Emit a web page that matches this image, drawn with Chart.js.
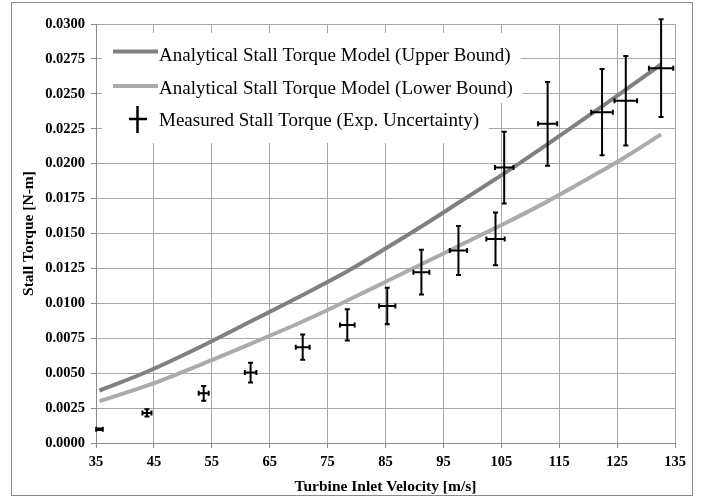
<!DOCTYPE html>
<html>
<head>
<meta charset="utf-8">
<script src="https://cdn.jsdelivr.net/npm/chart.js@4/dist/chart.umd.min.js"></script>
<style>
  html, body { margin: 0; padding: 0; background: #fff; }
  #wrap { width: 704px; height: 498px; position: relative; }
</style>
</head>
<body>
<div id="wrap"><canvas id="stallChart"></canvas></div>
<script>
// turbine inlet velocity [m/s]
const velocity = [35.6, 43.8, 53.6, 61.7, 70.7, 78.4, 85.3, 91.2, 97.6, 104.0, 105.5, 113.0, 122.4, 126.5, 132.6];

// analytical model, upper / lower bound [N-m]
const upperBound = [0.00375, 0.0051, 0.0070, 0.0087, 0.0106, 0.0123, 0.0140, 0.0155, 0.0172, 0.0189, 0.0193, 0.0214, 0.0241, 0.0253, 0.0271];
const lowerBound = [0.0030, 0.0041, 0.0057, 0.0071, 0.0087, 0.0102, 0.0116, 0.0128, 0.0141, 0.0154, 0.0157, 0.0173, 0.0195, 0.0205, 0.0221];

// measured stall torque and its uncertainty
const measured = [0.00098, 0.00215, 0.00356, 0.00504, 0.00686, 0.00845, 0.00981, 0.01223, 0.01378, 0.01461, 0.01972, 0.02285, 0.02369, 0.0245, 0.02684];
const torqueErr = [0.00005, 0.00026, 0.00053, 0.0007, 0.0009, 0.00112, 0.0013, 0.0016, 0.00176, 0.00189, 0.00257, 0.003, 0.00308, 0.0032, 0.0035];
const velocityErr = [0.57, 0.78, 0.86, 1.0, 1.2, 1.27, 1.4, 1.38, 1.5, 1.58, 1.6, 1.65, 1.87, 1.96, 2.1];

const legendLabels = [
    "Analytical Stall Torque Model (Upper Bound)",
    "Analytical Stall Torque Model (Lower Bound)",
    "Measured Stall Torque (Exp. Uncertainty)"
];

const UPPER_COLOR = "#808080";
const LOWER_COLOR = "#ababab";

function toPoints(xs, ys){
    return xs.map((v, i) => ({ x: v, y: ys[i] }));
}

// outer frame
const framePlugin = {
    id: "frame",
    beforeDraw(chart){
        const ctx = chart.ctx;
        ctx.save();
        ctx.fillStyle = "#fff";
        ctx.fillRect(0, 0, chart.width, chart.height);
        ctx.strokeStyle = "#8a8a8a";
        ctx.lineWidth = 1;
        ctx.strokeRect(11.5, 2.5, 681, 493);
        ctx.restore();
    }
};

// error bars of the measured series
const errorBarPlugin = {
    id: "errorBars",
    afterDatasetsDraw(chart){
        const { ctx, scales: { x, y } } = chart;
        ctx.save();
        ctx.strokeStyle = "#000";
        ctx.lineWidth = 2;
        ctx.lineCap = "butt";
        velocity.forEach((v, i) => {
            const cx = x.getPixelForValue(v);
            const cy = y.getPixelForValue(measured[i]);
            const yTop = y.getPixelForValue(measured[i] + torqueErr[i]);
            const yBot = y.getPixelForValue(measured[i] - torqueErr[i]);
            const xL = x.getPixelForValue(v - velocityErr[i]);
            const xR = x.getPixelForValue(v + velocityErr[i]);
            const cap = 2.5;
            ctx.beginPath();
            ctx.moveTo(cx, yTop); ctx.lineTo(cx, yBot);
            ctx.moveTo(cx - cap, yTop); ctx.lineTo(cx + cap, yTop);
            ctx.moveTo(cx - cap, yBot); ctx.lineTo(cx + cap, yBot);
            ctx.moveTo(xL, cy); ctx.lineTo(xR, cy);
            ctx.moveTo(xL, cy - cap); ctx.lineTo(xL, cy + cap);
            ctx.moveTo(xR, cy - cap); ctx.lineTo(xR, cy + cap);
            ctx.stroke();
        });
        ctx.restore();
    }
};

// legend inside the plot, each entry on its own white box
const legendPlugin = {
    id: "insideLegend",
    afterDatasetsDraw(chart){
        const ctx = chart.ctx;
        const left = chart.chartArea.left + 6;
        const rows = [51.5, 86, 119];
        const baselines = [60.5, 94, 126];
        ctx.save();
        ctx.font = "19px 'Liberation Serif', 'Times New Roman', serif";
        ctx.textBaseline = "alphabetic";
        ctx.textAlign = "left";
        const textX = 159;
        // white backing
        ctx.fillStyle = "#fff";
        legendLabels.forEach((lab, i) => {
            const w = ctx.measureText(lab).width;
            const top = i === 0 ? 33 : (rows[i - 1] + rows[i]) / 2 + 0.5;
            const bottom = i === legendLabels.length - 1 ? 143 : (rows[i] + rows[i + 1]) / 2 + 0.5;
            ctx.fillRect(left, top, textX + w + 10 - left, bottom - top);
        });
        // swatches
        ctx.lineWidth = 4;
        ctx.strokeStyle = UPPER_COLOR;
        ctx.beginPath(); ctx.moveTo(113, rows[0]); ctx.lineTo(158, rows[0]); ctx.stroke();
        ctx.strokeStyle = LOWER_COLOR;
        ctx.beginPath(); ctx.moveTo(113, rows[1]); ctx.lineTo(158, rows[1]); ctx.stroke();
        ctx.strokeStyle = "#000";
        ctx.lineWidth = 2.5;
        ctx.beginPath();
        ctx.moveTo(137.5, 106); ctx.lineTo(137.5, 133);
        ctx.moveTo(129, rows[2]); ctx.lineTo(147, rows[2]);
        ctx.stroke();
        // labels
        ctx.fillStyle = "#000";
        legendLabels.forEach((lab, i) => ctx.fillText(lab, textX, baselines[i]));
        ctx.restore();
    }
};

const ctx = document.getElementById("stallChart").getContext("2d");

new Chart(ctx, {
    type: "scatter",
    data: {
        datasets: [
            {
                label: legendLabels[0],
                data: toPoints(velocity, upperBound),
                showLine: true,
                borderColor: UPPER_COLOR,
                borderWidth: 4,
                pointRadius: 0,
                cubicInterpolationMode: "monotone",
                order: 2
            },
            {
                label: legendLabels[1],
                data: toPoints(velocity, lowerBound),
                showLine: true,
                borderColor: LOWER_COLOR,
                borderWidth: 4,
                pointRadius: 0,
                cubicInterpolationMode: "monotone",
                order: 3
            },
            {
                label: legendLabels[2],
                data: toPoints(velocity, measured),
                showLine: false,
                pointRadius: 0,
                order: 1
            }
        ]
    },
    options: {
        responsive: true,
        maintainAspectRatio: false,
        animation: false,
        layout: {
            padding: { left: 0, top: 24, right: 29, bottom: 0 }
        },
        plugins: {
            legend: { display: false },
            tooltip: { enabled: false }
        },
        scales: {
            x: {
                type: "linear",
                min: 35,
                max: 135,
                afterFit(scale){ scale.height = 55; },
                ticks: {
                    stepSize: 10,
                    color: "#000",
                    padding: 6,
                    font: { family: "'Liberation Serif', serif", size: 14.5, weight: "bold" }
                },
                grid: { color: "#a8a8a8", tickLength: 5, tickColor: "#8a8a8a" },
                border: { color: "#8a8a8a" },
                title: {
                    display: true,
                    text: "Turbine Inlet Velocity [m/s]",
                    color: "#000",
                    padding: { top: 0, bottom: 2 },
                    font: { family: "'Liberation Serif', serif", size: 15.5, weight: "bold" }
                }
            },
            y: {
                min: 0,
                max: 0.03,
                afterFit(scale){ scale.width = 96; },
                ticks: {
                    stepSize: 0.0025,
                    color: "#000",
                    padding: 6,
                    callback: v => v.toFixed(4),
                    font: { family: "'Liberation Serif', serif", size: 14.5, weight: "bold" }
                },
                grid: { color: "#a8a8a8", tickLength: 5, tickColor: "#8a8a8a" },
                border: { color: "#8a8a8a" },
                title: {
                    display: true,
                    text: "Stall Torque [N-m]",
                    color: "#000",
                    padding: { top: 20, bottom: 0 },
                    font: { family: "'Liberation Serif', serif", size: 15.5, weight: "bold" }
                }
            }
        }
    },
    plugins: [framePlugin, errorBarPlugin, legendPlugin]
});
</script>
</body>
</html>
